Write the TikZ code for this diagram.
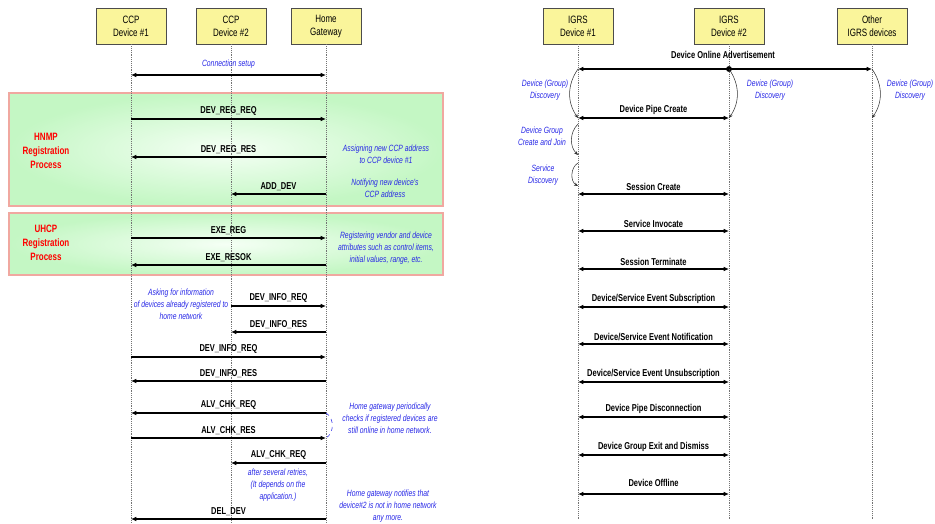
\documentclass[tikz,border=0pt]{standalone}
\usepackage{fontspec}
\setmainfont{Liberation Sans}
\newfontfamily\narrowfont[FakeStretch=0.75]{Liberation Sans}
\usepackage{xcolor}
\usepackage{tikz}
\usetikzlibrary{arrows.meta}

\definecolor{hdrfill}{HTML}{FAF59B}
\definecolor{grpfill}{HTML}{C4F7C4}
\definecolor{grpline}{HTML}{F0A8A0}
\definecolor{notecol}{HTML}{2626E6}

\begin{document}
\begin{tikzpicture}[
    x=0.75pt, y=-0.75pt,
    every node/.style={font=\narrowfont},
    hdr/.style={draw=black!70, fill=hdrfill, minimum width=52.5pt, minimum height=27pt, inner sep=1pt, align=center, font=\narrowfont\fontsize{8}{9.75}\selectfont},
    life/.style={densely dotted, black!55},
    msg/.style={-{Latex[length=4pt,width=3.5pt]}, line width=1.1pt},
    dmsg/.style={{Latex[length=4pt,width=3.5pt]}-{Latex[length=4pt,width=3.5pt]}, line width=1.1pt},
    lbl/.style={above, inner sep=2pt, font=\narrowfont\bfseries\fontsize{7.5}{9}\selectfont},
    note/.style={text=notecol, align=center, font=\narrowfont\itshape\fontsize{6.8}{9}\selectfont},
    grp/.style={draw=grpline, line width=0.9pt, inner color=green!4, outer color=grpfill},
    grptitle/.style={text=red, align=center, font=\narrowfont\bfseries\fontsize{8}{10.5}\selectfont},
    disc/.style={-{Stealth[length=3pt,width=2.5pt]}, black!80}
]
\useasboundingbox (0,0) rectangle (935,524);

% registration groups
\path[grp] (9,93) rectangle (443,206);
\path[grp] (9,213) rectangle (443,275);
\node[grptitle] (hnmp) at (46,151) {HNMP\\Registration\\Process};
\node[grptitle] (uhcp) at (46,243) {UHCP\\Registration\\Process};

% headers
\node[hdr] (ccp1) at (131,26) {CCP\\Device \#1};
\node[hdr] (ccp2) at (231,26) {CCP\\Device \#2};
\node[hdr] (hgw) at (326,26) {Home\\Gateway};
\node[hdr] (igrs1) at (578,26) {IGRS\\Device \#1};
\node[hdr] (igrs2) at (729,26) {IGRS\\Device \#2};
\node[hdr] (others) at (872,26) {Other\\IGRS devices};

% lifelines
\coordinate (lend) at (0,524);
\coordinate (rend) at (0,520);
\draw[life] (ccp1.south) -- (ccp1 |- lend);
\draw[life] (ccp2.south) -- (ccp2 |- lend);
\draw[life] (hgw.south) -- (hgw |- lend);
\draw[life] (igrs1.south) -- (igrs1 |- rend);
\draw[life] (igrs2.south) -- (igrs2 |- rend);
\draw[life] (others.south) -- (others |- rend);

% left: CCP rows
\coordinate (setup) at (0,75);
\coordinate (regreq) at (0,119);
\coordinate (regres) at (0,157);
\coordinate (adddev) at (0,194);
\coordinate (exereg) at (0,238);
\coordinate (exeresok) at (0,265);
\coordinate (inforeqA) at (0,306);
\coordinate (inforesA) at (0,332);
\coordinate (inforeqB) at (0,357);
\coordinate (inforesB) at (0,381);
\coordinate (alvreqA) at (0,413);
\coordinate (alvres) at (0,438);
\coordinate (alvreqB) at (0,463);
\coordinate (deldev) at (0,519);

\draw[dmsg] (ccp1 |- setup) -- node[note, above=1pt] {Connection setup} (hgw |- setup);
\draw[msg] (ccp1 |- regreq) -- node[lbl] {DEV\_REG\_REQ} (hgw |- regreq);
\draw[msg] (hgw |- regres) -- node[lbl] {DEV\_REG\_RES} (ccp1 |- regres);
\draw[msg] (hgw |- adddev) -- node[lbl] {ADD\_DEV} (ccp2 |- adddev);
\draw[msg] (ccp1 |- exereg) -- node[lbl] {EXE\_REG} (hgw |- exereg);
\draw[msg] (hgw |- exeresok) -- node[lbl] {EXE\_RESOK} (ccp1 |- exeresok);
\draw[msg] (ccp2 |- inforeqA) -- node[lbl] {DEV\_INFO\_REQ} (hgw |- inforeqA);
\draw[msg] (hgw |- inforesA) -- node[lbl] {DEV\_INFO\_RES} (ccp2 |- inforesA);
\draw[msg] (ccp1 |- inforeqB) -- node[lbl] {DEV\_INFO\_REQ} (hgw |- inforeqB);
\draw[msg] (hgw |- inforesB) -- node[lbl] {DEV\_INFO\_RES} (ccp1 |- inforesB);
\draw[msg] (hgw |- alvreqA) -- node[lbl] {ALV\_CHK\_REQ} (ccp1 |- alvreqA);
\draw[msg] (ccp1 |- alvres) -- node[lbl] {ALV\_CHK\_RES} (hgw |- alvres);
\draw[msg] (hgw |- alvreqB) -- node[lbl] {ALV\_CHK\_REQ} (ccp2 |- alvreqB);
\draw[msg] (hgw |- deldev) -- node[lbl] {DEL\_DEV} (ccp1 |- deldev);
\draw[dashed, notecol] (hgw |- alvreqA) to[bend left=60] (hgw |- alvres);

\node[note] (assign) at (386,154) {Assigning new CCP address\\to CCP device \#1};
\node[note] (notify) at (385,188) {Notifying new device's\\CCP address};
\node[note] (vendor) at (386,248) {Registering vendor and device\\attributes such as control items,\\initial values, range, etc.};
\node[note] (asking) at (181,304) {Asking for information\\of devices already registered to\\home network};
\node[note] (periodic) at (390,418) {Home gateway periodically\\checks if registered devices are\\still online in home network.};
\node[note] (retries) at (278,485) {after several retries,\\(It depends on the\\application.)};
\node[note] (notifies) at (388,506) {Home gateway notifies that\\device\#2 is not in home network\\any more.};

% right: IGRS rows
\coordinate (advert) at (0,69);
\coordinate (pipe) at (0,118);
\coordinate (gcA) at (0,124);
\coordinate (gcB) at (0,155);
\coordinate (sdA) at (0,163);
\coordinate (sdB) at (0,186);
\coordinate (screate) at (0,194);
\coordinate (sinvoke) at (0,231);
\coordinate (sterm) at (0,269);
\coordinate (evsub) at (0,307);
\coordinate (evnotify) at (0,344);
\coordinate (evunsub) at (0,382);
\coordinate (pipedisc) at (0,417);
\coordinate (grpexit) at (0,455);
\coordinate (offline) at (0,494);

\node[lbl, anchor=center] (advlbl) at (723,55) {Device Online Advertisement};
\draw[msg] (igrs2 |- advert) -- (igrs1 |- advert);
\draw[msg] (igrs2 |- advert) -- (others |- advert);
\fill (igrs2 |- advert) circle (2.2pt);

\draw[disc] (igrs1 |- advert) to[bend right=35] (igrs1 |- pipe);
\draw[disc] (igrs2 |- advert) to[bend left=35] (igrs2 |- pipe);
\draw[disc] (others |- advert) to[bend left=35] (others |- pipe);
\draw[disc] (igrs1 |- gcA) to[bend right=45] (igrs1 |- gcB);
\draw[disc] (igrs1 |- sdA) to[bend right=60] (igrs1 |- sdB);

\node[note] (disc1) at (545,90) {Device (Group)\\Discovery};
\node[note] (disc2) at (770,90) {Device (Group)\\Discovery};
\node[note] (disc3) at (910,90) {Device (Group)\\Discovery};
\node[note] (gcreate) at (542,136) {Device Group\\Create and Join};
\node[note] (sdisc) at (543,175) {Service\\Discovery};

\draw[dmsg] (igrs1 |- pipe) -- node[lbl] {Device Pipe Create} (igrs2 |- pipe);
\draw[dmsg] (igrs1 |- screate) -- node[lbl] {Session Create} (igrs2 |- screate);
\draw[dmsg] (igrs1 |- sinvoke) -- node[lbl] {Service Invocate} (igrs2 |- sinvoke);
\draw[dmsg] (igrs1 |- sterm) -- node[lbl] {Session Terminate} (igrs2 |- sterm);
\draw[dmsg] (igrs1 |- evsub) -- node[lbl] {Device/Service Event Subscription} (igrs2 |- evsub);
\draw[dmsg] (igrs1 |- evnotify) -- node[lbl] {Device/Service Event Notification} (igrs2 |- evnotify);
\draw[dmsg] (igrs1 |- evunsub) -- node[lbl] {Device/Service Event Unsubscription} (igrs2 |- evunsub);
\draw[dmsg] (igrs1 |- pipedisc) -- node[lbl] {Device Pipe Disconnection} (igrs2 |- pipedisc);
\draw[dmsg] (igrs1 |- grpexit) -- node[lbl] {Device Group Exit and Dismiss} (igrs2 |- grpexit);
\draw[dmsg] (igrs1 |- offline) -- node[lbl, inner sep=5pt] {Device Offline} (igrs2 |- offline);
\end{tikzpicture}
\end{document}
